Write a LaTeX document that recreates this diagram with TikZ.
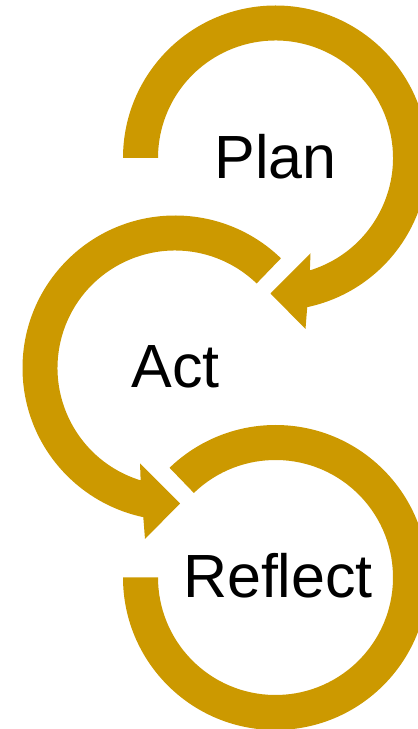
\documentclass[tikz,border=0pt]{standalone}
\usepackage{fontspec}
\setmainfont{Liberation Sans}
\usetikzlibrary{calc}
\definecolor{gold}{RGB}{204,153,0}
\begin{document}
\begin{tikzpicture}[x=1pt,y=1pt,
  ringband/.style={fill=gold,draw=none},
  lbl/.style={anchor=base,inner sep=0pt,font=\fontsize{61}{61}\selectfont,text=black}]
\useasboundingbox (0,0) rectangle (418,729);
\clip (0,0) rectangle (418,729);
% centres
\coordinate (cP) at (275.5,571);
\coordinate (cA) at (175,361);
\coordinate (cR) at (275.5,151.5);
% Plan arrow
\fill[ringband] ($(cP)+(180:152.5)$) arc[start angle=180,end angle=-78,radius=152.5]
  -- ($(cP)+(30,-171)$) -- ($(cP)+(-5,-135.5)$) -- ($(cP)+(35,-95.5)$)
  -- ($(cP)+(-73:117.5)$) arc[start angle=-73,end angle=180,radius=117.5] -- cycle;
% Act arrow
\fill[ringband] ($(cA)+(46:152.5)$) arc[start angle=46,end angle=258,radius=152.5]
  -- ($(cA)+(-30,-171)$) -- ($(cA)+(5,-135.5)$) -- ($(cA)+(-35,-95.5)$)
  -- ($(cA)+(253:117.5)$) arc[start angle=253,end angle=46,radius=117.5] -- cycle;
% Reflect band
\fill[ringband] ($(cR)+(180:152.5)$) arc[start angle=180,end angle=494,radius=152.5]
  -- ($(cR)+(494:117.5)$) arc[start angle=494,end angle=180,radius=117.5] -- cycle;
\node[lbl] (plan) at (275.8,550) {Plan};
\node[lbl] (act) at (175.5,341) {Act};
\node[lbl] (reflect) at (278,131) {Reflect};
\end{tikzpicture}
\end{document}
